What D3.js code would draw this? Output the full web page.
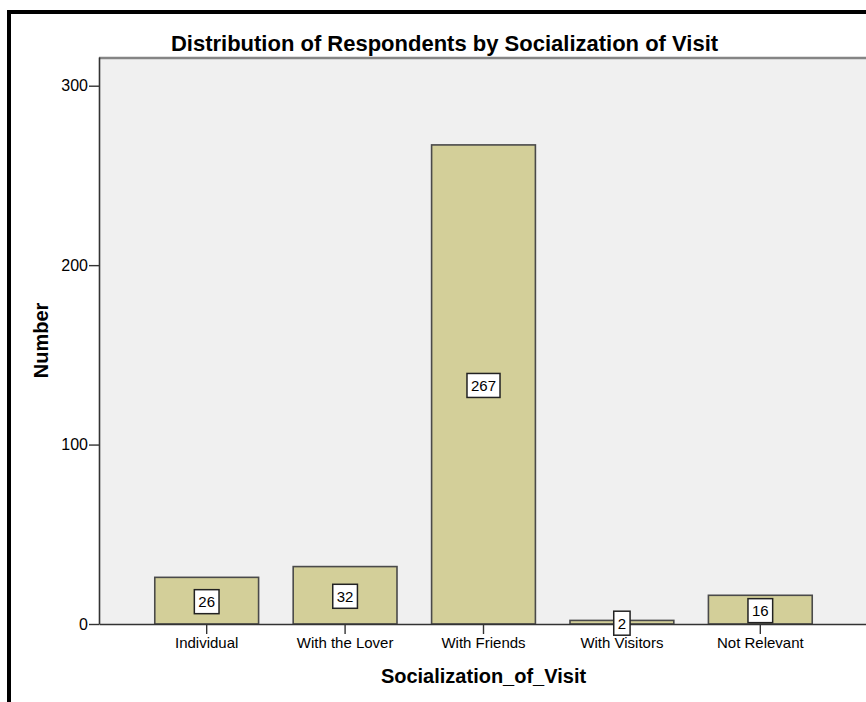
<!DOCTYPE html>
<html>
<head>
<meta charset="utf-8">
<script src="https://cdn.jsdelivr.net/npm/d3@7/dist/d3.min.js"></script>
<style>
  html, body { margin: 0; padding: 0; background: #ffffff; }
  svg { display: block; }
  text { font-family: Arial, "Liberation Sans", sans-serif; fill: #000; }
</style>
</head>
<body>
<div id="chart"></div>
<script>
// Survey counts by who the visit was made with
const categories = ["Individual", "With the Lover", "With Friends", "With Visitors", "Not Relevant"];
const counts = [26, 32, 267, 2, 16];
const yTicks = [0, 100, 200, 300];
const chartTitle = "Distribution of Respondents by Socialization of Visit";
const xTitle = "Socialization_of_Visit";
const yTitle = "Number";

const W = 866, H = 702;
const plot = { left: 99, top: 57, right: 868, bottom: 624 };

const svg = d3.select("#chart").append("svg")
  .attr("width", W).attr("height", H);

// outer frame of the chart
svg.append("rect")
  .attr("x", 9).attr("y", 12)
  .attr("width", 900).attr("height", 740)
  .attr("fill", "none").attr("stroke", "#000").attr("stroke-width", 4);

const x = d3.scaleBand()
  .domain(categories)
  .range([plot.left, plot.right])
  .paddingInner(0.25)
  .paddingOuter(0.403);

const y = d3.scaleLinear()
  .domain([0, 316])
  .range([plot.bottom, plot.top]);

// plot background
svg.append("rect")
  .attr("x", plot.left).attr("y", plot.top)
  .attr("width", plot.right - plot.left).attr("height", plot.bottom - plot.top)
  .attr("fill", "#f0f0f0");

// top frame line of the plot area
svg.append("line")
  .attr("x1", plot.left).attr("x2", plot.right)
  .attr("y1", plot.top + 1).attr("y2", plot.top + 1)
  .attr("stroke", "#858585").attr("stroke-width", 2.5);

// bars
svg.append("g").selectAll("rect")
  .data(counts)
  .join("rect")
  .attr("x", (d, i) => x(categories[i]))
  .attr("y", d => y(d))
  .attr("width", x.bandwidth())
  .attr("height", d => y(0) - y(d))
  .attr("fill", "#d3cf99")
  .attr("stroke", "#4a4a4a")
  .attr("stroke-width", 1.6);

// y axis
const yAxis = svg.append("g")
  .attr("transform", `translate(${plot.left},0)`)
  .call(d3.axisLeft(y).tickValues(yTicks).tickSize(10).tickPadding(1).tickSizeOuter(0));
yAxis.select(".domain").attr("stroke", "#333").attr("stroke-width", 1.6);
yAxis.selectAll(".tick line").attr("stroke", "#333").attr("stroke-width", 1.4);
yAxis.selectAll(".tick text")
  .attr("font-size", 16).attr("font-family", "Arial, 'Liberation Sans', sans-serif")
  .attr("fill", "#111");

// x axis
const xAxis = svg.append("g")
  .attr("transform", `translate(0,${plot.bottom})`)
  .call(d3.axisBottom(x).tickSize(10).tickPadding(3).tickSizeOuter(0));
xAxis.select(".domain").attr("stroke", "#333").attr("stroke-width", 1.6);
xAxis.selectAll(".tick line").attr("stroke", "#333").attr("stroke-width", 1.4);
xAxis.selectAll(".tick text")
  .attr("font-size", 15).attr("font-family", "Arial, 'Liberation Sans', sans-serif")
  .attr("fill", "#111");

// value labels in boxes at the middle of each bar
const labels = svg.append("g").selectAll("g")
  .data(counts)
  .join("g")
  .attr("transform", (d, i) =>
    `translate(${x(categories[i]) + x.bandwidth() / 2},${(y(d) + y(0)) / 2 + 1})`);

labels.append("text")
  .attr("text-anchor", "middle")
  .attr("dy", "0.36em")
  .attr("font-size", 15)
  .attr("fill", "#111")
  .text(d => d);

labels.each(function () {
  const g = d3.select(this);
  const bb = g.select("text").node().getBBox();
  g.insert("rect", "text")
    .attr("x", -bb.width / 2 - 4)
    .attr("y", -12)
    .attr("width", bb.width + 8)
    .attr("height", 24)
    .attr("fill", "#ffffff")
    .attr("stroke", "#222")
    .attr("stroke-width", 1.5);
});

// titles
svg.append("text")
  .attr("x", 444.5).attr("y", 51)
  .attr("text-anchor", "middle")
  .attr("font-size", 22).attr("font-weight", "bold")
  .text(chartTitle);

svg.append("text")
  .attr("x", (plot.left + plot.right) / 2).attr("y", 683)
  .attr("text-anchor", "middle")
  .attr("font-size", 20).attr("font-weight", "bold")
  .text(xTitle);

svg.append("text")
  .attr("transform", `translate(48,${(plot.top + plot.bottom) / 2}) rotate(-90)`)
  .attr("text-anchor", "middle")
  .attr("font-size", 20).attr("font-weight", "bold")
  .text(yTitle);
</script>
</body>
</html>
